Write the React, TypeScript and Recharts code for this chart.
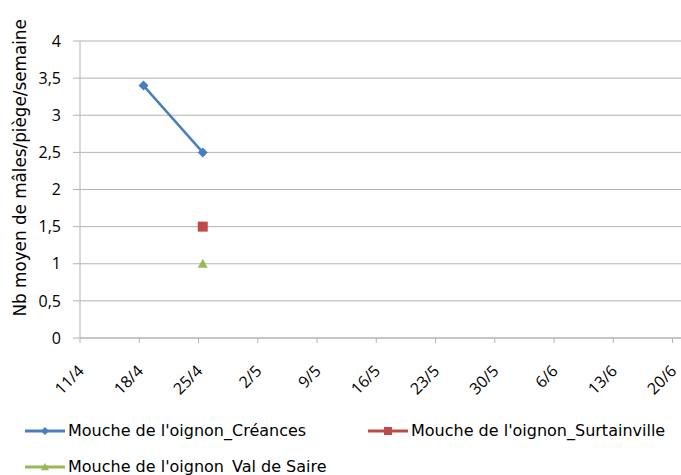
import React from "react"
import { LineChart, Line, XAxis, YAxis, CartesianGrid } from "recharts"

// week labels on the x axis (day 0 = 11/4)
const weekLabels = ["11/4", "18/4", "25/4", "2/5", "9/5", "16/5", "23/5", "30/5", "6/6", "13/6", "20/6"]
const weekDays = [0, 7, 14, 21, 28, 35, 42, 49, 56, 63, 70]

// trap readings
const sampleDays = [7.5, 14.5]
const creances = [3.4, 2.5]
const surtainville = [null, 1.5]
const valDeSaire = [null, 1]

const yTicks = [0, 0.5, 1, 1.5, 2, 2.5, 3, 3.5, 4]

const series = [
  { key: "creances", name: "Mouche de l'oignon_Créances", color: "#4a7ebb", shape: "diamond" },
  { key: "surtainville", name: "Mouche de l'oignon_Surtainville", color: "#be4b48", shape: "square" },
  { key: "valDeSaire", name: "Mouche de l'oignon_Val de Saire", color: "#98b954", shape: "triangle" },
]

const data = sampleDays.map((d, i) => ({
  day: d,
  creances: creances[i],
  surtainville: surtainville[i],
  valDeSaire: valDeSaire[i],
}))

const TICK_FONT = "'Open Sans', sans-serif"
const LABEL_FONT = "'DejaVu Sans', Verdana, sans-serif"

function Marker({ cx, cy, shape, color, size = 5 }: any) {
  if (cx == null || cy == null || Number.isNaN(cy)) return null
  if (shape === "diamond") {
    const s = size
    return <path d={`M${cx},${cy - s}L${cx + s},${cy}L${cx},${cy + s}L${cx - s},${cy}Z`} fill={color} />
  }
  if (shape === "square") {
    return <rect x={cx - size} y={cy - size} width={size * 2} height={size * 2} fill={color} />
  }
  return <path d={`M${cx},${cy - size}L${cx + size},${cy + size * 0.8}L${cx - size},${cy + size * 0.8}Z`} fill={color} />
}

function DateTick({ x, y, payload }: any) {
  const idx = weekDays.indexOf(payload.value)
  return (
    <g transform={`translate(${x + 1},${y + 23}) rotate(-45)`}>
      <text x={0} y={0} textAnchor="end" dy="0.35em" fontFamily={TICK_FONT} fontSize={16} fill="#000">
        {weekLabels[idx]}
      </text>
    </g>
  )
}

function LegendKey({ color, shape }: any) {
  return (
    <svg width={40} height={12} style={{ display: "block" }}>
      <line x1={0} y1={6} x2={40} y2={6} stroke={color} strokeWidth={3} />
      <Marker cx={20} cy={6} shape={shape} color={color} size={4} />
    </svg>
  )
}

export default function App() {
  return (
    <div style={{ position: "absolute", left: 0, top: 0, width: 681, height: 475, background: "#fff", overflow: "hidden" }}>
      <LineChart width={681} height={475} data={data} margin={{ top: 41, right: 0, left: 0, bottom: 0 }}>
        <CartesianGrid vertical={false} stroke="#b3b3b3" strokeWidth={1} />
        <XAxis
          dataKey="day"
          type="number"
          domain={[0, 71]}
          ticks={weekDays}
          allowDataOverflow
          interval={0}
          height={137}
          stroke="#b3b3b3"
          tickSize={5}
          tick={<DateTick />}
        />
        <YAxis
          domain={[0, 4]}
          ticks={yTicks}
          width={80}
          stroke="#b3b3b3"
          tickSize={7}
          tickMargin={12}
          tickFormatter={(v: number) => String(v).replace(".", ",")}
          tick={{ fontFamily: TICK_FONT, fontSize: 16, fill: "#000" }}
          label={{
            value: "Nb moyen de mâles/piège/semaine",
            angle: -90,
            position: "insideLeft",
            dx: 15,
            dy: 127,
            style: { fontFamily: LABEL_FONT, fontSize: 16.8, fill: "#000", textAnchor: "start" },
          }}
        />
        {series.map((s) => (
          <Line
            key={s.key}
            dataKey={s.key}
            name={s.name}
            stroke={s.color}
            strokeWidth={2.5}
            connectNulls={false}
            isAnimationActive={false}
            dot={(p: any) => <Marker key={`${s.key}-${p.index}`} cx={p.cx} cy={p.cy} shape={s.shape} color={s.color} size={5} />}
            activeDot={false}
          />
        ))}
      </LineChart>
      <div style={{ position: "absolute", left: 0, top: 0, width: 681, height: 475, pointerEvents: "none" }}>
        {series.map((s, i) => (
          <div
            key={s.key}
            style={{
              position: "absolute",
              left: i === 1 ? 368 : 25,
              top: i === 2 ? 458 : 422,
              display: "flex",
              alignItems: "center",
              fontFamily: LABEL_FONT,
              fontSize: 16,
              color: "#000",
              whiteSpace: "nowrap",
              lineHeight: "18px",
            }}
          >
            <LegendKey color={s.color} shape={s.shape} />
            <span style={{ marginLeft: 3 }}>{s.name}</span>
          </div>
        ))}
      </div>
    </div>
  )
}
